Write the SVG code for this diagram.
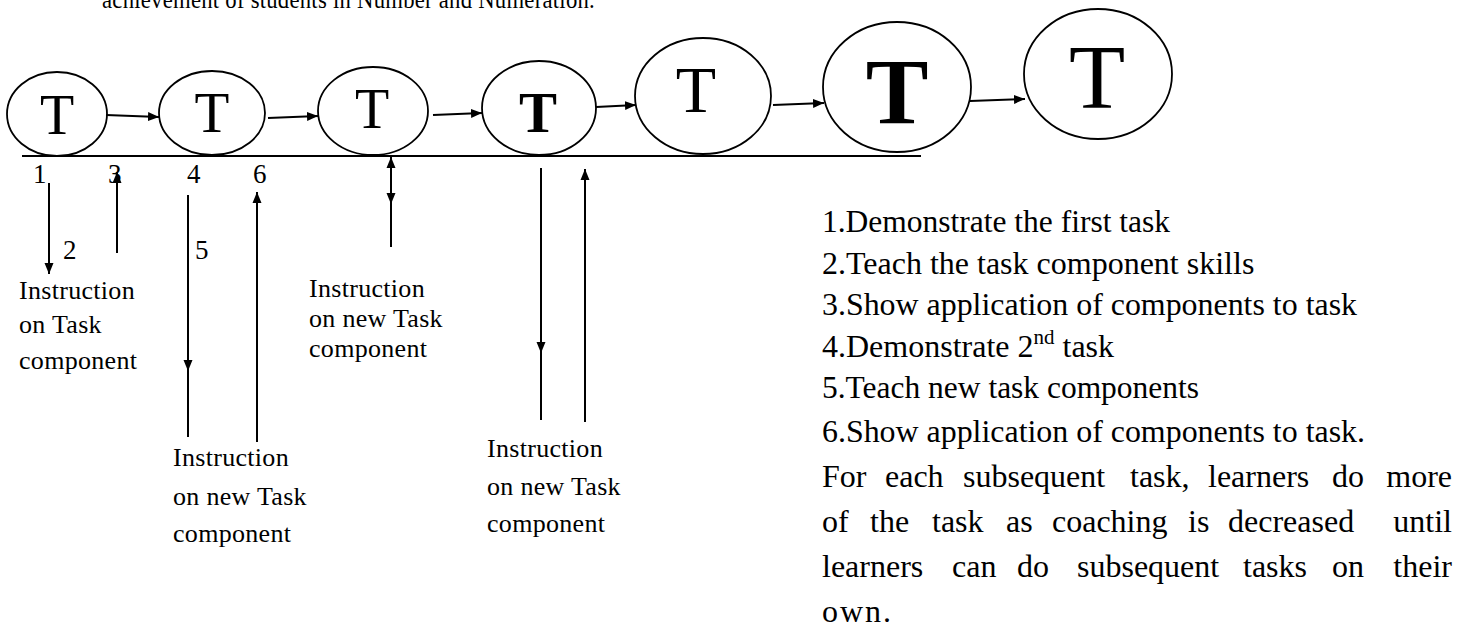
<svg xmlns="http://www.w3.org/2000/svg" width="1464" height="630" viewBox="0 0 1464 630">
<defs>
<marker id="ah" markerUnits="userSpaceOnUse" markerWidth="12" markerHeight="10" viewBox="0 0 12 10" refX="11" refY="5" orient="auto">
<path d="M0,0.5 L11,5 L0,9.5 z" fill="#000"/>
</marker>
</defs>
<style>
.node ellipse{fill:#fff;stroke:#000;stroke-width:1.8}
.tl{font-family:"Liberation Serif","Times New Roman",serif;fill:#000;text-anchor:middle}
.lbl{font-family:"Liberation Serif","Times New Roman",serif;font-size:26px;fill:#000;letter-spacing:0.3px}
.num{font-family:"Liberation Serif","Times New Roman",serif;font-size:27px;fill:#000}
.lst{font-family:"Liberation Serif","Times New Roman",serif;font-size:32px;fill:#000}
.c{stroke:#000;stroke-width:2;fill:none}
.ca{stroke:#000;stroke-width:2;fill:none;marker-end:url(#ah)}
</style>
<rect width="1464" height="630" fill="#fff"/>
<text class="lbl" x="102" y="8" font-size="24" textLength="493" lengthAdjust="spacingAndGlyphs">achievement of students in Number and Numeration.</text>

<g id="baseline"><line class="c" x1="22" y1="156" x2="921" y2="156"/></g>

<g id="node-t1" class="node"><ellipse cx="57" cy="114" rx="50" ry="42"/><text class="tl" x="57" y="134" font-size="56">T</text></g>
<g id="node-t2" class="node"><ellipse cx="212" cy="113" rx="53" ry="42"/><text class="tl" x="212" y="132" font-size="57">T</text></g>
<g id="node-t3" class="node"><ellipse cx="373" cy="111" rx="55" ry="44"/><text class="tl" x="372" y="128" font-size="56">T</text></g>
<g id="node-t4" class="node"><ellipse cx="539" cy="108" rx="57" ry="47"/><text class="tl" x="538" y="132" font-size="57" font-weight="bold">T</text></g>
<g id="node-t5" class="node"><ellipse cx="703" cy="96" rx="68" ry="58"/><text class="tl" x="696" y="112" font-size="66">T</text></g>
<g id="node-t6" class="node"><ellipse cx="897" cy="87" rx="74" ry="65"/><text class="tl" x="897" y="123" font-size="94" font-weight="bold">T</text></g>
<g id="node-t7" class="node"><ellipse cx="1098" cy="74" rx="74" ry="65"/><text class="tl" x="1097" y="108" font-size="92">T</text></g>

<g id="connectors">
<line class="ca" x1="106" y1="115" x2="159" y2="117"/>
<line class="ca" x1="268" y1="118" x2="318" y2="116"/>
<line class="ca" x1="433" y1="115" x2="482" y2="113"/>
<line class="ca" x1="596" y1="107" x2="636" y2="105"/>
<line class="ca" x1="773" y1="105" x2="824" y2="103"/>
<line class="ca" x1="970" y1="101" x2="1025" y2="99"/>
<line class="ca" x1="49" y1="183" x2="49" y2="274"/>
<line class="ca" x1="117" y1="253" x2="117" y2="172"/>
<line class="ca" x1="188" y1="195" x2="188" y2="371"/>
<line class="c" stroke-width="1.5" x1="188" y1="368" x2="188" y2="437"/>
<line class="ca" x1="257" y1="442" x2="257" y2="192"/>
<line class="ca" x1="391" y1="247" x2="391" y2="157"/>
<line class="ca" stroke-width="3" x1="391" y1="165" x2="391" y2="204"/>
<line class="ca" x1="541" y1="168" x2="541" y2="353"/>
<line class="c" stroke-width="1.5" x1="541" y1="350" x2="541" y2="420"/>
<line class="ca" x1="585" y1="422" x2="585" y2="169"/>
</g>

<g id="numbers">
<text class="num" x="33" y="183">1</text>
<text class="num" x="108" y="183">3</text>
<text class="num" x="187" y="183">4</text>
<text class="num" x="253" y="183">6</text>
<text class="num" x="63" y="259">2</text>
<text class="num" x="195" y="259">5</text>
</g>

<g id="label-1">
<text class="lbl" x="19" y="299">Instruction</text>
<text class="lbl" x="19" y="333">on Task</text>
<text class="lbl" x="19" y="369">component</text>
</g>
<g id="label-2">
<text class="lbl" x="309" y="297">Instruction</text>
<text class="lbl" x="309" y="327">on new Task</text>
<text class="lbl" x="309" y="357">component</text>
</g>
<g id="label-3">
<text class="lbl" x="173" y="466">Instruction</text>
<text class="lbl" x="173" y="505">on new Task</text>
<text class="lbl" x="173" y="542">component</text>
</g>
<g id="label-4">
<text class="lbl" x="487" y="457">Instruction</text>
<text class="lbl" x="487" y="495">on new Task</text>
<text class="lbl" x="487" y="532">component</text>
</g>

<g id="legend">
<text class="lst" x="822" y="232" textLength="348" lengthAdjust="spacingAndGlyphs">1.Demonstrate  the first  task</text>
<text class="lst" x="822" y="274">2.Teach the task component  skills</text>
<text class="lst" x="822" y="315" textLength="535" lengthAdjust="spacingAndGlyphs">3.Show application  of components  to task</text>
<text class="lst" x="822" y="357">4.Demonstrate  2<tspan font-size="21" dy="-13">nd</tspan><tspan dy="13"> task</tspan></text>
<text class="lst" x="822" y="398" textLength="377" lengthAdjust="spacingAndGlyphs">5.Teach new task components</text>
<text class="lst" x="822" y="442" textLength="543" lengthAdjust="spacingAndGlyphs">6.Show application  of components  to task.</text>
<text class="lst" y="487"><tspan x="822">For</tspan><tspan x="885">each</tspan><tspan x="963">subsequent</tspan><tspan x="1130">task,</tspan><tspan x="1208">learners</tspan><tspan x="1332">do</tspan><tspan x="1452" text-anchor="end">more</tspan></text>
<text class="lst" y="532"><tspan x="822">of</tspan><tspan x="870">the</tspan><tspan x="932">task</tspan><tspan x="1006">as</tspan><tspan x="1052">coaching</tspan><tspan x="1188">is</tspan><tspan x="1228">decreased</tspan><tspan x="1452" text-anchor="end">until</tspan></text>
<text class="lst" y="577"><tspan x="822">learners</tspan><tspan x="952">can</tspan><tspan x="1017">do</tspan><tspan x="1077">subsequent</tspan><tspan x="1243">tasks</tspan><tspan x="1332">on</tspan><tspan x="1452" text-anchor="end">their</tspan></text>
<text class="lst" x="822" y="622" letter-spacing="2">own.</text>
</g>
</svg>
